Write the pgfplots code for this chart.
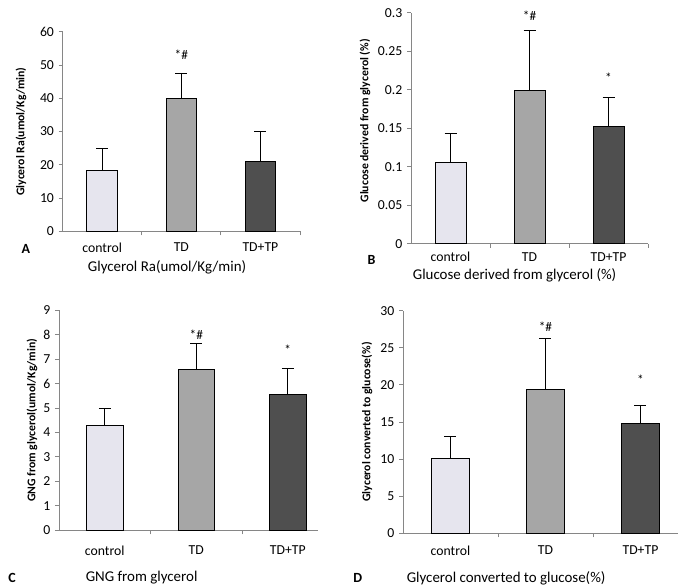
\documentclass[border=0pt]{standalone}
\usepackage{pgfplots}
\pgfplotsset{compat=1.18}
\usepackage{pgfplotstable}
\usepackage{fontspec}
\setmainfont{Carlito}
\definecolor{ctrl}{HTML}{E6E5EE}
\definecolor{tdc}{HTML}{A6A6A6}
\definecolor{tdtp}{HTML}{4F4F4F}
\definecolor{axgray}{HTML}{868686}

\pgfplotstableread{
x y e
0 18.3 6.6
}\Aa
\pgfplotstableread{
x y e
1 39.9 7.7
}\Ab
\pgfplotstableread{
x y e
2 20.9 9.1
}\Ac
\pgfplotstableread{
x y e
0 0.105 0.038
}\Ba
\pgfplotstableread{
x y e
1 0.199 0.078
}\Bb
\pgfplotstableread{
x y e
2 0.152 0.038
}\Bc
\pgfplotstableread{
x y e
0 4.29 0.69
}\Ca
\pgfplotstableread{
x y e
1 6.56 1.06
}\Cb
\pgfplotstableread{
x y e
2 5.56 1.06
}\Cc
\pgfplotstableread{
x y e
0 10.06 2.96
}\Da
\pgfplotstableread{
x y e
1 19.36 6.91
}\Db
\pgfplotstableread{
x y e
2 14.82 2.47
}\Dc

\pgfplotsset{
 panel/.style={
  scale only axis, clip=false,
  axis x line*=bottom, axis y line*=left,
  axis line style={axgray, line width=0.6pt},
  xmin=-0.5, ymin=0,
  xtick={0,1,2}, xticklabels={control,TD,TD+TP},
  major x tick style={draw=none},
  minor xtick={0.5,1.5,2.5},
  minor x tick style={axgray, line width=0.6pt},
  minor tick length=3pt,
  tick align=outside, major tick length=3pt,
  major y tick style={axgray, line width=0.6pt},
  ticklabel style={font=\fontsize{10.3}{11}\selectfont},
  ylabel style={font=\bfseries\fontsize{8.8}{10}\selectfont, anchor=center},
  xlabel style={font=\fontsize{11.2}{13}\selectfont, anchor=center},
  /pgf/number format/assume math mode=true,
  ybar, bar shift=0pt,
 },
 bars/.style={fill=#1, draw=black, line width=0.6pt,
   error bars/.cd, y dir=plus, y explicit, error mark=-,
   error mark options={black, rotate=90, mark size=4.5pt, line width=0.6pt},
   error bar style={black, line width=0.6pt}},
}
\tikzset{
 ann/.style={font=\fontsize{10}{11}\selectfont},
 letter/.style={font=\bfseries\fontsize{10.5}{12}\selectfont},
}

\begin{document}
\begin{tikzpicture}
\path[use as bounding box] (0,0) rectangle (512.25pt,439.5pt);

% Panel A
\begin{axis}[panel, at={(47.0pt,266.0pt)}, anchor=south west,
  width=178pt, height=149.7pt, xmax=2.5, ymax=60, ytick={0,10,...,60},
  bar width=0.39,
  xticklabel style={yshift=-2pt},
  ylabel={Glycerol Ra(umol/Kg/min)},
  ylabel style={at={(axis description cs:-0.176,0.5)}},
  xlabel={Glycerol Ra(umol/Kg/min)},
  xlabel style={at={(axis description cs:0.44,-0.179)}}]
\addplot[bars=ctrl] table[x=x,y=y,y error=e]{\Aa};
\addplot[bars=tdc] table[x=x,y=y,y error=e]{\Ab};
\addplot[bars=tdtp] table[x=x,y=y,y error=e]{\Ac};
\node[ann] at (axis cs:1,53) {*\#};
\node[letter] at (axis description cs:-0.155,-0.089) {A};
\end{axis}

% Panel B
\begin{axis}[panel, at={(308.25pt,256.7pt)}, anchor=south west,
  width=177.75pt, height=173.25pt, xmax=2.5, ymax=0.3,
  ytick={0,0.05,0.1,0.15,0.2,0.25,0.3},
  yticklabels={0,0.05,0.1,0.15,0.2,0.25,0.3},
  bar width=0.39,
  ylabel={Glucose derived from glycerol (\%)},
  ylabel style={at={(axis description cs:-0.194,0.532)}},
  xlabel={Glucose derived from glycerol (\%)},
  xlabel style={at={(axis description cs:0.437,-0.135)}}]
\addplot[bars=ctrl] table[x=x,y=y,y error=e]{\Ba};
\addplot[bars=tdc] table[x=x,y=y,y error=e]{\Bb};
\addplot[bars=tdtp] table[x=x,y=y,y error=e]{\Bc};
\node[ann] at (axis cs:1,0.296) {*\#};
\node[ann] at (axis cs:2,0.216) {*};
\node[letter] at (axis description cs:-0.166,-0.071) {B};
\end{axis}

% Panel C
\begin{axis}[panel, at={(44.25pt,41.8pt)}, anchor=south west,
  width=194.25pt, height=165.2pt, xmax=2.33, ymax=9, ytick={0,1,...,9},
  minor xtick={0.5,1.5},
  bar width=0.40,
  xticklabel style={yshift=-5pt},
  ylabel={GNG from glycerol(umol/Kg/min)},
  ylabel style={at={(axis description cs:-0.104,0.5)}},
  xlabel={GNG from glycerol},
  xlabel style={at={(axis description cs:0.319,-0.215)}}]
\addplot[bars=ctrl] table[x=x,y=y,y error=e]{\Ca};
\addplot[bars=tdc] table[x=x,y=y,y error=e]{\Cb};
\addplot[bars=tdtp] table[x=x,y=y,y error=e]{\Cc};
\node[ann] at (axis cs:1,7.98) {*\#};
\node[ann] at (axis cs:2,7.37) {*};
\node[letter] at (axis description cs:-0.181,-0.215) {C};
\end{axis}

% Panel D
\begin{axis}[panel, at={(302.25pt,39.5pt)}, anchor=south west,
  width=206.25pt, height=167pt, xmax=2.395, ymax=30, ytick={0,5,...,30},
  minor xtick={0.5,1.5},
  bar width=0.40,
  xticklabel style={yshift=-3pt},
  ylabel={Glycerol converted to glucose(\%)},
  ylabel style={at={(axis description cs:-0.131,0.5)}},
  xlabel={Glycerol converted to glucose(\%)},
  xlabel style={at={(axis description cs:0.375,-0.201)}}]
\addplot[bars=ctrl] table[x=x,y=y,y error=e]{\Da};
\addplot[bars=tdc] table[x=x,y=y,y error=e]{\Db};
\addplot[bars=tdtp] table[x=x,y=y,y error=e]{\Dc};
\node[ann] at (axis cs:1,27.8) {*\#};
\node[ann] at (axis cs:2,20.7) {*};
\node[letter] at (axis description cs:-0.164,-0.201) {D};
\end{axis}
\end{tikzpicture}
\end{document}
